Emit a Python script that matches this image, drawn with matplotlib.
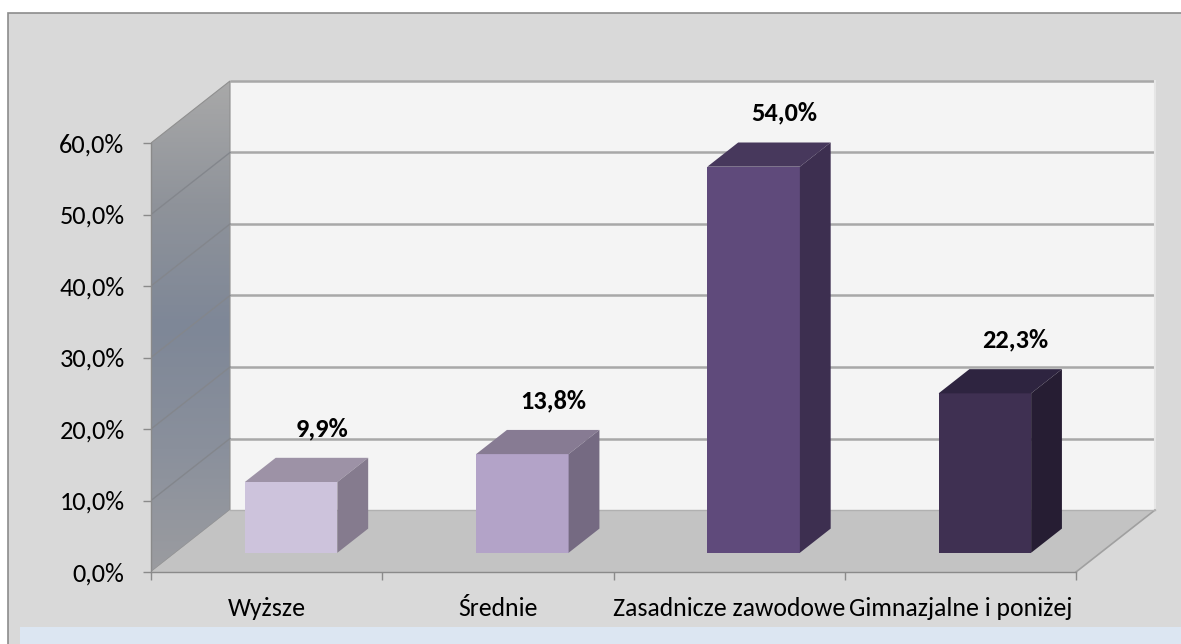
import matplotlib
matplotlib.use("Agg")
import matplotlib.pyplot as plt
import numpy as np
from matplotlib.patches import Polygon, Rectangle
from matplotlib import font_manager as fm

# ---------------- data ----------------
categories = ["Wyższe", "Średnie", "Zasadnicze zawodowe", "Gimnazjalne i poniżej"]
values = [9.9, 13.8, 54.0, 22.3]
yticks = [0, 10, 20, 30, 40, 50, 60]

front_colors = ["#cdc3dc", "#b3a3c8", "#5f4a7b", "#3f3052"]
top_colors = ["#9d92a6", "#877b93", "#47385c", "#2e2440"]
side_colors = ["#857b8e", "#756a82", "#3d2f50", "#261d33"]

# ---------------- fonts ----------------
def pick(names):
    avail = {f.name for f in fm.fontManager.ttflist}
    return [n for n in names if n in avail] + ["DejaVu Sans"]

fam = pick(["Carlito", "Lato", "Open Sans"])
plt.rcParams["font.family"] = fam
big = fam[0] in ("Carlito",)
fs = 19 if big else 17.3
fs_cat = 18.5 if big else 16.9

W, H = 1181, 644
fig = plt.figure(figsize=(W / 100, H / 100), dpi=100)
fig.patch.set_facecolor("white")

# background axes (pixel coordinates of the figure frame)
bg = fig.add_axes([0, 0, 1, 1], zorder=-5)
bg.set_xlim(0, W)
bg.set_ylim(H, 0)
bg.axis("off")
bg.add_patch(Rectangle((8, 13), W + 10, H, facecolor="#d9d9d9", edgecolor="#8c8c8c", lw=1.2))
bg.add_patch(Rectangle((20, 627), W, H, facecolor="#dce6f2", edgecolor="none"))

# axes mapping: x 0..4 -> px 151..1076, y 0..60 -> px 572..143
px_x = 231.25
px_y = 7.15
x0 = 151
y0 = 572
xlim = (0, 4.4)
ylim = (-8, 70)
left = x0 / W
width = (xlim[1] - xlim[0]) * px_x / W
bottom = 1 - (y0 - ylim[0] * px_y) / H
height = (ylim[1] - ylim[0]) * px_y / H
ax = fig.add_axes([left, bottom, width, height], zorder=1)
ax.set_xlim(*xlim)
ax.set_ylim(*ylim)
ax.patch.set_visible(False)

DX = 79 / px_x
DY = 62 / px_y
n = len(categories)
ymax = yticks[-1]

# back wall
ax.add_patch(Rectangle((DX, DY), n, ymax, facecolor="#f4f4f4", edgecolor="none", zorder=1))
for v in yticks[1:]:
    ax.plot([DX, n + DX], [v + DY, v + DY], color="#a8a8a8", lw=1.8, zorder=2,
            solid_capstyle="butt")
ax.plot([n + DX, n + DX], [DY, ymax + DY], color="#e6e6e6", lw=1.5, zorder=2)

# left wall with gradient
wall = Polygon([(0, 0), (DX, DY), (DX, ymax + DY), (0, ymax)], closed=True,
               facecolor="none", edgecolor="#8f8f8f", lw=0.8, zorder=3.5)
ax.add_patch(wall)
grad_cols = np.array([[0x9b, 0x9c, 0xa0], [0x8a, 0x90, 0x9c], [0x7e, 0x87, 0x97],
                      [0x8f, 0x93, 0x9a], [0xa9, 0xa9, 0xa9]]) / 255.0
t = np.linspace(0, 1, 256)
stops = np.linspace(0, 1, len(grad_cols))
img = np.stack([np.interp(t, stops, grad_cols[:, k]) for k in range(3)], axis=-1)
img = img[::-1][:, None, :]
im = ax.imshow(img, extent=(0, DX, 0, ymax + DY), aspect="auto", zorder=3, origin="upper")
clip = Polygon([(0, 0), (DX, DY), (DX, ymax + DY), (0, ymax)], closed=True,
               transform=ax.transData, facecolor="none")
im.set_clip_path(clip)
ax.set_xlim(*xlim)
ax.set_ylim(*ylim)
for v in yticks[1:-1]:
    ax.plot([0, DX], [v, v + DY], color="#83868c", lw=1.0, zorder=3.6)

# floor
ax.add_patch(Polygon([(0, 0), (n, 0), (n + DX, DY), (DX, DY)], closed=True,
                     facecolor="#c3c3c3", edgecolor="none", zorder=4))
ax.plot([n, n + DX], [0, DY], color="#a0a0a0", lw=1.2, zorder=4.1)
ax.plot([DX, n + DX], [DY, DY], color="#b0b0b0", lw=1.0, zorder=4.1)

# bars
z0, z1 = 0.31, 0.70
bw = 0.40
bd = z1 - z0
for i, v in enumerate(values):
    c = i + 0.5
    xl = c - bw / 2 + z0 * DX
    xr = c + bw / 2 + z0 * DX
    yb = z0 * DY
    yt = yb + v
    bdx, bdy = bd * DX, bd * DY
    ax.add_patch(Polygon([(xl, yb), (xr, yb), (xr, yt), (xl, yt)], closed=True,
                         facecolor=front_colors[i], edgecolor="none", zorder=5))
    ax.add_patch(Polygon([(xl, yt), (xr, yt), (xr + bdx, yt + bdy), (xl + bdx, yt + bdy)],
                         closed=True, facecolor=top_colors[i], edgecolor="none", zorder=5))
    ax.add_patch(Polygon([(xr, yb), (xr + bdx, yb + bdy), (xr + bdx, yt + bdy), (xr, yt)],
                         closed=True, facecolor=side_colors[i], edgecolor="none", zorder=5))
    ax.text(c + z1 * DX, yt + bdy + 4.1, f"{v:.1f}".replace(".", ",") + "%",
            ha="center", va="center", fontsize=fs, fontweight="bold", color="black", zorder=6)

# axes / ticks
for s in ["top", "right"]:
    ax.spines[s].set_visible(False)
ax.spines["left"].set_bounds(0, ymax)
ax.spines["bottom"].set_position(("data", 0))
ax.spines["bottom"].set_bounds(0, n)
for s in ["left", "bottom"]:
    ax.spines[s].set_color("#8a8a8a")
    ax.spines[s].set_linewidth(1.0)
    ax.spines[s].set_zorder(4.5)

ax.set_yticks(yticks)
ax.set_yticklabels([f"{v:.1f}".replace(".", ",") + "%" for v in yticks])
ax.tick_params(axis="y", direction="out", length=6, width=1, color="#8a8a8a",
               labelsize=fs, pad=13)
ax.set_xticks(range(n + 1))
ax.set_xticklabels([""] * (n + 1))
ax.set_xticks([i + 0.5 for i in range(n)], minor=True)
ax.set_xticklabels(categories, minor=True)
ax.tick_params(axis="x", which="major", direction="out", length=6, width=1, color="#8a8a8a")
ax.tick_params(axis="x", which="minor", length=0, labelsize=fs_cat, pad=18)

fig.savefig("out.png", dpi=100, facecolor=fig.get_facecolor())
